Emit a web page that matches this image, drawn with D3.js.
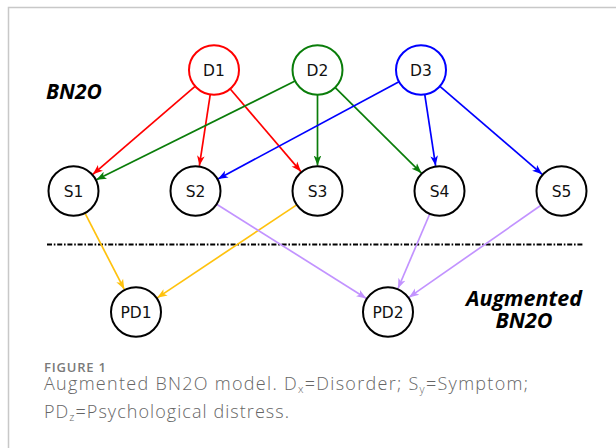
<!DOCTYPE html>
<html>
<head>
<meta charset="utf-8">
<script src="https://cdn.jsdelivr.net/npm/d3@7/dist/d3.min.js"></script>
<style>
  html, body { margin: 0; padding: 0; background: #fff; }
  svg { display: block; }
</style>
</head>
<body>
<svg id="chart" width="616" height="448"></svg>
<script>
// ---- data ----
const disorders = ["D1", "D2", "D3"];
const symptoms = ["S1", "S2", "S3", "S4", "S5"];
const distress = ["PD1", "PD2"];
const levels = ["disorder", "symptom", "distress"];
const disorderEdges = [
  ["D1", "S1"], ["D1", "S2"], ["D1", "S3"],
  ["D2", "S1"], ["D2", "S3"], ["D2", "S4"],
  ["D3", "S2"], ["D3", "S4"], ["D3", "S5"]
];
const distressEdges = [
  ["S1", "PD1"], ["S3", "PD1"],
  ["S2", "PD2"], ["S4", "PD2"], ["S5", "PD2"]
];
const disorderColors = ["#ff0000", "#0a7d0a", "#0000ff"];
const distressColors = ["#ffc20e", "#c293ff"];
const captionTitle = "FIGURE 1";
const capParts1 = [["Augmented BN2O model. D", false], ["x", true], ["=Disorder; S", false], ["y", true], ["=Symptom;", false]];
const capParts2 = [["PD", false], ["z", true], ["=Psychological distress.", false]];

// ---- layout via scales ----
const svg = d3.select("#chart");
const R = 25;

const yLevel = d3.scalePoint().domain(levels).range([70, 312]);
const xD = d3.scalePoint().domain(disorders).range([214, 421]);
const xS = d3.scalePoint().domain(symptoms).range([73.5, 561.5]);
const xP = d3.scalePoint().domain(distress).range([136, 388]);

const nodes = new Map();
disorders.forEach((d, i) => nodes.set(d, {id: d, x: xD(d), y: yLevel("disorder"), color: disorderColors[i]}));
symptoms.forEach(d => nodes.set(d, {id: d, x: xS(d), y: yLevel("symptom"), color: "#000"}));
distress.forEach(d => nodes.set(d, {id: d, x: xP(d), y: yLevel("distress"), color: "#000"}));

const colorD = d3.scaleOrdinal().domain(disorders).range(disorderColors);
const colorP = d3.scaleOrdinal().domain(distress).range(distressColors);

// frame
svg.append("rect")
  .attr("x", 8.5).attr("y", 7.5)
  .attr("width", 800).attr("height", 600)
  .attr("fill", "none").attr("stroke", "#c8c8c8").attr("stroke-width", 1.5);

// markers
const defs = svg.append("defs");
const allColors = disorderColors.concat(distressColors);
allColors.forEach((c, i) => {
  defs.append("marker")
    .attr("id", "arr" + i)
    .attr("viewBox", "0 -5 10 10")
    .attr("refX", 10).attr("refY", 0)
    .attr("markerWidth", 10).attr("markerHeight", 10)
    .attr("markerUnits", "userSpaceOnUse")
    .attr("orient", "auto")
    .append("path")
    .attr("d", "M0,-3.8L10,0L0,3.8L2.5,0Z")
    .attr("fill", c);
});

// dash-dot separator
svg.append("line")
  .attr("x1", 47).attr("x2", 584)
  .attr("y1", 244.5).attr("y2", 244.5)
  .attr("stroke", "#000").attr("stroke-width", 2)
  .attr("stroke-dasharray", "5,1.8,1.6,1.8");

// edges
const edgeData = disorderEdges.map(e => ({s: e[0], t: e[1], color: colorD(e[0])}))
  .concat(distressEdges.map(e => ({s: e[0], t: e[1], color: colorP(e[1])})));

svg.append("g").selectAll("line").data(edgeData).join("line")
  .each(function(d) {
    const a = nodes.get(d.s), b = nodes.get(d.t);
    const dx = b.x - a.x, dy = b.y - a.y, L = Math.hypot(dx, dy);
    const ux = dx / L, uy = dy / L;
    d3.select(this)
      .attr("x1", a.x + ux * R).attr("y1", a.y + uy * R)
      .attr("x2", b.x - ux * (R + 0.5)).attr("y2", b.y - uy * (R + 0.5));
  })
  .attr("stroke", d => d.color)
  .attr("stroke-width", 1.7)
  .attr("marker-end", d => "url(#arr" + allColors.indexOf(d.color) + ")");

// nodes
const ng = svg.append("g").selectAll("g").data(Array.from(nodes.values())).join("g")
  .attr("transform", d => `translate(${d.x},${d.y})`);
ng.append("ellipse")
  .attr("rx", R).attr("ry", R - 0.3)
  .attr("fill", "#fff")
  .attr("stroke", d => d.color)
  .attr("stroke-width", 2);
ng.append("text")
  .attr("text-anchor", "middle")
  .attr("dy", "0.36em")
  .attr("font-family", "'DejaVu Sans', sans-serif")
  .attr("font-size", 15.5)
  .attr("fill", "#111")
  .text(d => d.id);

// model labels
const lab = {"font-family": "'Open Sans', sans-serif", "font-weight": 700, "font-style": "italic", "font-size": 21.5};
function styled(sel) { Object.entries(lab).forEach(([k, v]) => sel.attr(k, v)); return sel; }
styled(svg.append("text")).attr("x", 46).attr("y", 99).attr("font-size", 21).attr("fill", "#000").text("BN2O");
styled(svg.append("text")).attr("x", 524).attr("y", 306).attr("text-anchor", "middle").text("Augmented");
styled(svg.append("text")).attr("x", 524).attr("y", 328).attr("text-anchor", "middle").text("BN2O");

// fit a text's letter-spacing so it spans the target width
function fitWidth(t, target) {
  const node = t.node();
  const len = node.getComputedTextLength();
  const n = node.textContent.length;
  if (n > 1) t.attr("letter-spacing", Math.max(0, (target - len) / (n - 1)).toFixed(3));
}

// caption
const fig = svg.append("text")
  .attr("x", 44).attr("y", 371.5)
  .attr("font-family", "'Open Sans', sans-serif")
  .attr("font-weight", 600)
  .attr("font-size", 13)
  .attr("fill", "#7a7a7a")
  .text(captionTitle);
fitWidth(fig, 62);

function caption(parts, y, width) {
  const t = svg.append("text")
    .attr("x", 44).attr("y", y)
    .attr("font-family", "'Open Sans', sans-serif")
    .attr("font-weight", 300)
    .attr("font-size", 18)
    .attr("fill", "#666");
  let prevSub = false;
  parts.forEach(([s, sub]) => {
    const ts = t.append("tspan").text(s);
    if (sub) ts.attr("font-size", 11).attr("dy", 3);
    else if (prevSub) ts.attr("dy", -3);
    prevSub = sub;
  });
  fitWidth(t, width);
}
caption(capParts1, 389.5, 484);
caption(capParts2, 417.5, 245);
</script>
</body>
</html>
